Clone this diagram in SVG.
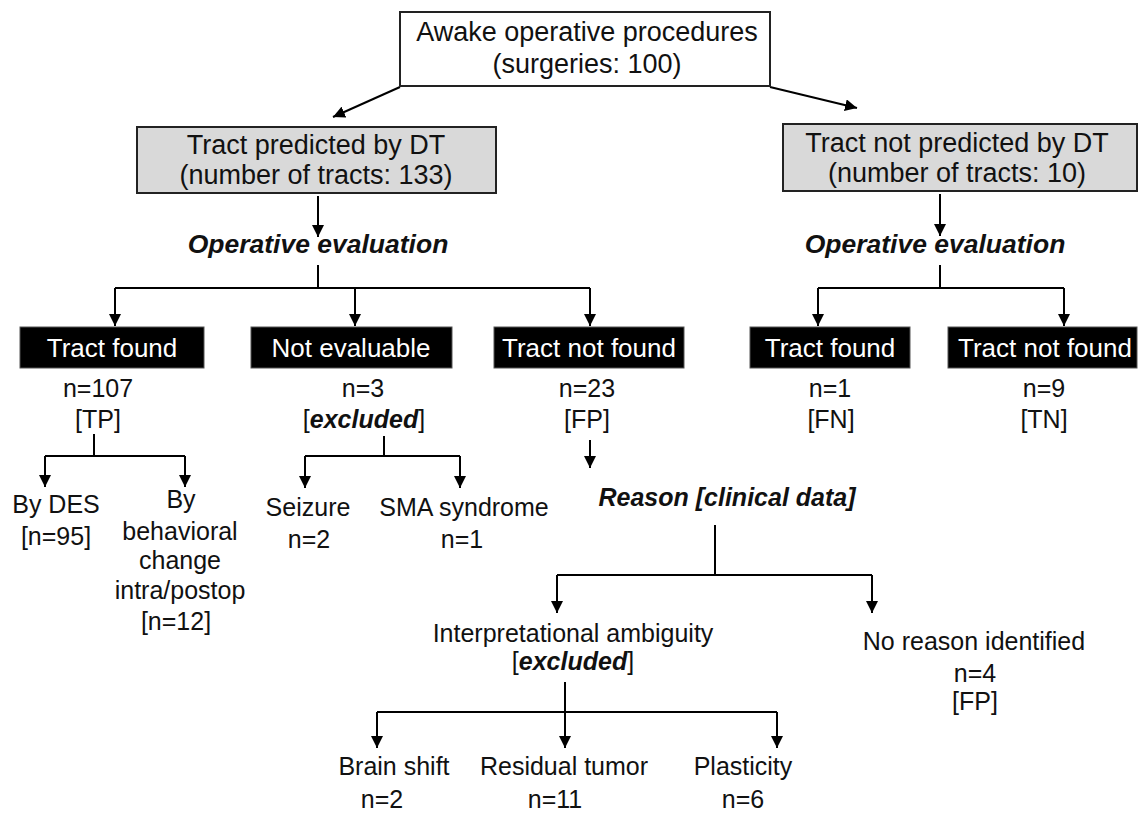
<svg xmlns="http://www.w3.org/2000/svg" width="1138" height="813" viewBox="0 0 1138 813">
<defs>
<marker id="ah" markerWidth="12" markerHeight="12" refX="10" refY="5" orient="auto" markerUnits="userSpaceOnUse" viewBox="0 0 10 10">
<path d="M0,0 L10,5 L0,10 z" fill="#000"/>
</marker>
<style>
text{font-family:"Liberation Sans",Arial,sans-serif;fill:#111;text-anchor:middle}
.t{font-size:25px}
.big{font-size:27px}
.bi{font-size:26.5px;font-weight:bold;font-style:italic}
.wb{font-size:26px;fill:#fff}
.box{fill:#fff;stroke:#222;stroke-width:2}
.grey{fill:#d9d9d9;stroke:#222;stroke-width:2}
.blk{fill:#000;stroke:#555;stroke-width:1}
.c{fill:none;stroke:#000;stroke-width:2}
.a{marker-end:url(#ah)}
.e{font-weight:bold;font-style:italic}
</style>
</defs>
<rect width="1138" height="813" fill="#fff"/>
<g id="connectors">
<line class="c a" x1="400" y1="87" x2="333" y2="117"/>
<line class="c a" x1="770" y1="87" x2="857" y2="108"/>
<line class="c a" x1="318" y1="196" x2="318" y2="237"/>
<line class="c a" x1="940" y1="194" x2="940" y2="236"/>
<path class="c" d="M318,265 V288 M115,288 H590"/>
<line class="c a" x1="115" y1="288" x2="115" y2="326"/>
<line class="c a" x1="355" y1="288" x2="355" y2="326"/>
<line class="c a" x1="590" y1="288" x2="590" y2="326"/>
<path class="c" d="M940,265 V288 M818,288 H1064"/>
<line class="c a" x1="818" y1="288" x2="818" y2="326"/>
<line class="c a" x1="1064" y1="288" x2="1064" y2="326"/>
<path class="c" d="M94,434 V456 M45,456 H185"/>
<line class="c a" x1="45" y1="456" x2="45" y2="487"/>
<line class="c a" x1="185" y1="456" x2="185" y2="487"/>
<path class="c" d="M384,436 V456 M305,456 H460"/>
<line class="c a" x1="305" y1="456" x2="305" y2="488"/>
<line class="c a" x1="460" y1="456" x2="460" y2="488"/>
<line class="c a" x1="590" y1="440" x2="590" y2="468"/>
<path class="c" d="M715,525 V575 M557,575 H872"/>
<line class="c a" x1="557" y1="575" x2="557" y2="613"/>
<line class="c a" x1="872" y1="575" x2="872" y2="613"/>
<path class="c" d="M565,682 V712 M377,712 H777"/>
<line class="c a" x1="377" y1="712" x2="377" y2="748"/>
<line class="c a" x1="565" y1="712" x2="565" y2="748"/>
<line class="c a" x1="777" y1="712" x2="777" y2="748"/>
</g>
<g id="n-awake">
<rect class="box" x="400" y="12" width="370" height="74"/>
<text class="big" x="587" y="41">Awake operative procedures</text>
<text class="big" x="587" y="73">(surgeries: 100)</text>
</g>
<g id="n-predicted">
<rect class="grey" x="137" y="127" width="359" height="66"/>
<text class="big" x="316" y="154">Tract predicted by DT</text>
<text class="big" x="316" y="184">(number of tracts: 133)</text>
</g>
<g id="n-notpredicted">
<rect class="grey" x="783" y="124" width="354" height="67"/>
<text class="big" x="957" y="152">Tract not predicted by DT</text>
<text class="big" x="957" y="182">(number of tracts: 10)</text>
</g>
<g id="n-opeval-left"><text class="bi" x="318" y="253">Operative evaluation</text></g>
<g id="n-opeval-right"><text class="bi" x="935" y="253">Operative evaluation</text></g>
<g id="n-found-left">
<rect class="blk" x="20" y="327" width="184" height="41"/>
<text class="wb" x="112" y="357">Tract found</text>
<text class="t" x="98" y="397">n=107</text>
<text class="t" x="98" y="428">[TP]</text>
</g>
<g id="n-notevaluable">
<rect class="blk" x="251" y="327" width="201" height="41"/>
<text class="wb" x="351" y="357">Not evaluable</text>
<text class="t" x="363" y="397">n=3</text>
<text class="t" x="364" y="428">[<tspan class="e">excluded</tspan>]</text>
</g>
<g id="n-notfound-left">
<rect class="blk" x="494" y="327" width="190" height="41"/>
<text class="wb" x="589" y="357">Tract not found</text>
<text class="t" x="587" y="397">n=23</text>
<text class="t" x="587" y="428">[FP]</text>
</g>
<g id="n-found-right">
<rect class="blk" x="750" y="327" width="160" height="41"/>
<text class="wb" x="830" y="357">Tract found</text>
<text class="t" x="830" y="397">n=1</text>
<text class="t" x="831" y="428">[FN]</text>
</g>
<g id="n-notfound-right">
<rect class="blk" x="948" y="327" width="189" height="41"/>
<text class="wb" x="1045" y="357">Tract not found</text>
<text class="t" x="1044" y="397">n=9</text>
<text class="t" x="1044" y="428">[TN]</text>
</g>
<g id="n-bydes">
<text class="t" x="56" y="513">By DES</text>
<text class="t" x="56" y="545">[n=95]</text>
</g>
<g id="n-bybehav">
<text class="t" x="181" y="508">By</text>
<text class="t" x="180" y="540">behavioral</text>
<text class="t" x="180" y="569">change</text>
<text class="t" x="180" y="599">intra/postop</text>
<text class="t" x="176" y="630">[n=12]</text>
</g>
<g id="n-seizure">
<text class="t" x="308" y="516">Seizure</text>
<text class="t" x="309" y="548">n=2</text>
</g>
<g id="n-sma">
<text class="t" x="464" y="516">SMA syndrome</text>
<text class="t" x="462" y="548">n=1</text>
</g>
<g id="n-reason"><text class="t e" x="727" y="506">Reason [clinical data]</text></g>
<g id="n-interp">
<text class="t" x="573" y="642">Interpretational ambiguity</text>
<text class="t" x="573" y="670">[<tspan class="e">excluded</tspan>]</text>
</g>
<g id="n-noreason">
<text class="t" x="974" y="650">No reason identified</text>
<text class="t" x="975" y="682">n=4</text>
<text class="t" x="975" y="710">[FP]</text>
</g>
<g id="n-brainshift">
<text class="t" x="394" y="775">Brain shift</text>
<text class="t" x="382" y="808">n=2</text>
</g>
<g id="n-residual">
<text class="t" x="564" y="775">Residual tumor</text>
<text class="t" x="555" y="808">n=11</text>
</g>
<g id="n-plasticity">
<text class="t" x="743" y="775">Plasticity</text>
<text class="t" x="743" y="808">n=6</text>
</g>
</svg>
